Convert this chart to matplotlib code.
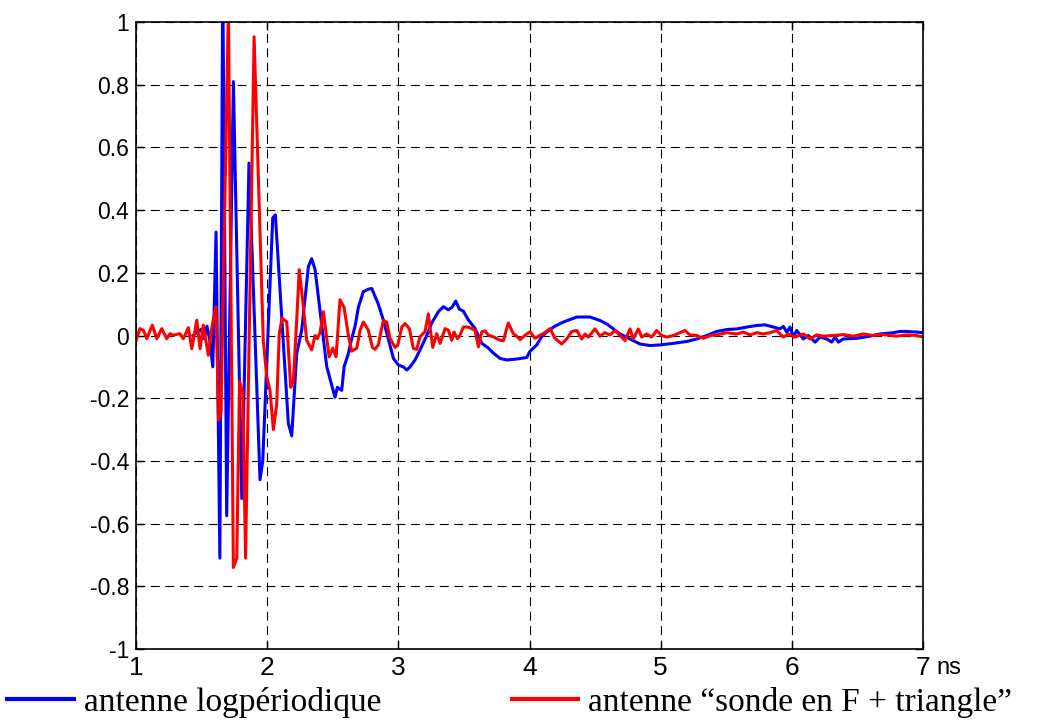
import matplotlib

matplotlib.use("Agg")
import matplotlib.pyplot as plt
from matplotlib.lines import Line2D

# ── Données (temps en ns, amplitude normalisée) ──
t_log = [1.435, 1.465, 1.496, 1.518, 1.541, 1.564, 1.585, 1.610, 1.639, 1.661,
         1.691, 1.742, 1.806, 1.861, 1.945, 1.966, 2.042, 2.062, 2.161, 2.187,
         2.225, 2.263, 2.314, 2.339, 2.365, 2.454, 2.517, 2.535, 2.568, 2.586,
         2.619, 2.644, 2.670, 2.695, 2.733, 2.771, 2.797, 2.847, 2.885, 2.962,
         3.000, 3.038, 3.064, 3.089, 3.127, 3.165, 3.216, 3.254, 3.305, 3.343,
         3.381, 3.409, 3.437, 3.465, 3.495, 3.533, 3.584, 3.636, 3.686, 3.724,
         3.775, 3.826, 3.902, 3.979, 4.004, 4.055, 4.093, 4.143, 4.194, 4.258,
         4.309, 4.360, 4.461, 4.537, 4.589, 4.639, 4.690, 4.766, 4.842, 4.919,
         4.995, 5.096, 5.198, 5.275, 5.351, 5.427, 5.503, 5.580, 5.656, 5.732,
         5.795, 5.859, 5.910, 5.935, 5.961, 5.986, 6.011, 6.037, 6.087, 6.126,
         6.177, 6.215, 6.266, 6.304, 6.330, 6.354, 6.392, 6.494, 6.596, 6.672,
         6.773, 6.824, 6.876, 6.952, 7.000]
v_log = [0.0, 0.01, 0.02, -0.01, 0.03, -0.02, -0.10, 0.33, -0.71, 1.15,
         -0.575, 0.81, -0.52, 0.55, -0.46, -0.40, 0.375, 0.385, -0.28, -0.32,
         -0.057, 0.017, 0.22, 0.245, 0.21, -0.10, -0.197, -0.165, -0.175, -0.10,
         -0.057, -0.01, 0.03, 0.09, 0.14, 0.148, 0.15, 0.10, 0.05, -0.073,
         -0.094, -0.10, -0.11, -0.10, -0.078, -0.046, 0.0, 0.04, 0.076, 0.092,
         0.082, 0.09, 0.11, 0.084, 0.078, 0.05, 0.023, -0.025, -0.04, -0.056,
         -0.073, -0.078, -0.075, -0.07, -0.05, -0.03, -0.003, 0.015, 0.03, 0.043,
         0.051, 0.059, 0.059, 0.048, 0.037, 0.021, 0.005, -0.011, -0.027, -0.032,
         -0.03, -0.025, -0.019, -0.011, 0.0, 0.013, 0.019, 0.021, 0.027, 0.032,
         0.034, 0.027, 0.021, 0.029, 0.011, 0.027, -0.005, 0.016, -0.011, 0.0,
         -0.021, -0.005, -0.011, -0.021, -0.005, -0.021, -0.011, -0.009, -0.002, 0.005,
         0.009, 0.013, 0.013, 0.011, 0.009]

t_sonde = [1.000, 1.030, 1.056, 1.082, 1.124, 1.158, 1.196, 1.234, 1.259, 1.284,
           1.335, 1.361, 1.399, 1.425, 1.463, 1.488, 1.513, 1.551, 1.579, 1.610,
           1.629, 1.648, 1.704, 1.742, 1.768, 1.789, 1.813, 1.835, 1.900, 1.970,
           1.996, 2.021, 2.047, 2.072, 2.092, 2.113, 2.149, 2.179, 2.199, 2.225,
           2.244, 2.270, 2.301, 2.339, 2.365, 2.382, 2.403, 2.428, 2.454, 2.472,
           2.500, 2.525, 2.555, 2.586, 2.619, 2.644, 2.683, 2.708, 2.733, 2.771,
           2.802, 2.822, 2.847, 2.885, 2.911, 2.936, 2.975, 2.995, 3.026, 3.051,
           3.084, 3.114, 3.140, 3.165, 3.203, 3.228, 3.262, 3.292, 3.318, 3.356,
           3.381, 3.407, 3.424, 3.450, 3.470, 3.495, 3.533, 3.559, 3.584, 3.610,
           3.636, 3.661, 3.686, 3.724, 3.775, 3.800, 3.838, 3.876, 3.902, 3.928,
           3.966, 4.004, 4.042, 4.080, 4.105, 4.156, 4.194, 4.245, 4.283, 4.321,
           4.360, 4.398, 4.423, 4.448, 4.499, 4.537, 4.575, 4.613, 4.651, 4.690,
           4.728, 4.766, 4.791, 4.829, 4.855, 4.893, 4.931, 4.969, 5.007, 5.046,
           5.096, 5.147, 5.185, 5.223, 5.275, 5.326, 5.377, 5.427, 5.503, 5.580,
           5.630, 5.681, 5.732, 5.782, 5.834, 5.884, 5.935, 5.973, 6.024, 6.087,
           6.138, 6.189, 6.240, 6.316, 6.392, 6.469, 6.545, 6.621, 6.697, 6.799,
           6.876, 6.952, 7.000]
v_sonde = [-0.015, 0.022, 0.017, -0.01, 0.033, -0.01, 0.022, -0.01, 0.006, 0.001,
           0.006, -0.01, 0.025, -0.042, 0.049, -0.042, 0.033, -0.063, 0.03, 0.092,
           -0.27, -0.245, 1.05, -0.74, -0.71, -0.146, -0.18, -0.71, 0.953, -0.015,
           -0.13, -0.175, -0.30, -0.22, 0.006, 0.055, 0.044, -0.165, -0.148, 0.05,
           0.21, 0.114, -0.015, -0.046, 0.0, -0.01, 0.01, 0.076, -0.01, -0.068,
           -0.04, -0.068, 0.114, 0.09, 0.0, -0.05, -0.04, 0.017, 0.043, 0.017,
           -0.038, -0.044, -0.03, 0.048, 0.043, -0.009, -0.038, -0.031, 0.027, 0.038,
           0.022, -0.041, -0.044, -0.004, 0.012, 0.069, -0.038, 0.006, -0.025, 0.022,
           0.017, -0.015, 0.011, -0.01, 0.001, 0.027, 0.027, 0.022, 0.017, -0.036,
           0.012, 0.015, 0.001, -0.004, -0.015, -0.017, 0.04, 0.006, -0.002, -0.013,
           0.001, 0.012, -0.009, 0.001, 0.006, 0.022, -0.009, -0.027, -0.011, 0.013,
           0.016, -0.011, 0.005, -0.005, 0.021, -0.002, 0.009, 0.002, 0.016, 0.0,
           -0.016, 0.021, -0.011, 0.021, -0.005, 0.005, -0.005, 0.016, 0.0, -0.005,
           0.0, 0.009, 0.016, 0.002, 0.0, -0.009, 0.0, 0.002, 0.009, 0.005,
           0.011, 0.002, 0.009, 0.005, 0.009, 0.016, -0.005, 0.005, -0.005, 0.005,
           -0.011, 0.002, -0.002, 0.0, 0.003, -0.002, 0.005, 0.0, 0.003, -0.002,
           0.002, 0.0, -0.005]

x_ticks = [1, 2, 3, 4, 5, 6, 7]
y_ticks = [-1, -0.8, -0.6, -0.4, -0.2, 0, 0.2, 0.4, 0.6, 0.8, 1]
y_labels = ["-1", "-0.8", "-0.6", "-0.4", "-0.2", "0", "0.2", "0.4", "0.6", "0.8", "1"]
noms = ["antenne logpériodique", "antenne \u201csonde en F + triangle\u201d"]
couleurs = ["#0000ff", "#ff0000"]

# ── Figure ──
fig = plt.figure(figsize=(10.37, 7.2), dpi=100)
ax = fig.add_axes([0.1312, 0.0986, 0.7589, 0.8708])

ax.plot(t_log, v_log, color=couleurs[0], lw=2.2)
ax.plot(t_sonde, v_sonde, color=couleurs[1], lw=2.2)

ax.set_xlim(1, 7)
ax.set_ylim(-1, 1)
ax.set_xticks(x_ticks)
ax.set_yticks(y_ticks)
ax.set_xticklabels([str(x) for x in x_ticks], family="Liberation Sans", fontsize=19)
ax.set_yticklabels(y_labels, family="Liberation Sans", fontsize=16.5)
ax.tick_params(direction="in", length=6, width=1, top=True, right=True, pad=5)
ax.grid(True, color="black", linestyle=(0, (8, 5)), linewidth=0.8)
for s in ax.spines.values():
    s.set_linewidth(1.2)

# unité collée au dernier tick
ax.text(1.017, -0.012, "ns", transform=ax.transAxes, ha="left", va="top",
        family="Liberation Sans", fontsize=17)

handles = [Line2D([], [], color=c, lw=3) for c in couleurs]
fig.legend(handles, noms, loc="lower left", bbox_to_anchor=(0.004, -0.002),
           ncol=2, frameon=False, borderaxespad=0.0, borderpad=0.1,
           handlelength=2.0, handletextpad=0.3, columnspacing=3.9,
           prop={"family": "Liberation Serif", "size": 24})

fig.savefig("out.png", dpi=100)
